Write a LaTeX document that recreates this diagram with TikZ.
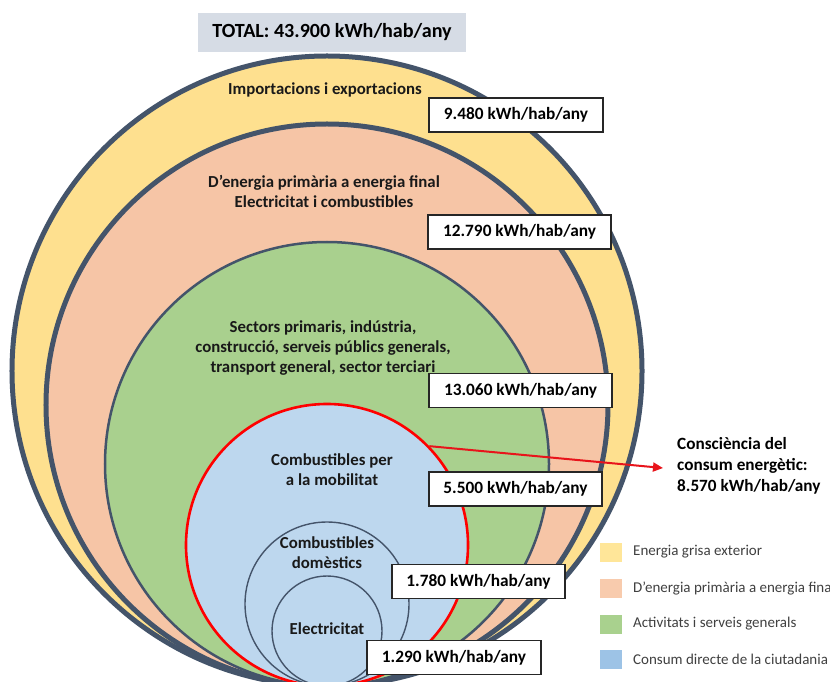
\documentclass[tikz,border=0pt]{standalone}
\usepackage{fontspec}
\setmainfont{Carlito}
\usetikzlibrary{arrows.meta}
\definecolor{navy}{HTML}{44546A}
\definecolor{cyel}{HTML}{FEE08F}
\definecolor{cpea}{HTML}{F6C5A6}
\definecolor{cgre}{HTML}{A9D08E}
\definecolor{cblu}{HTML}{BDD7EE}
\definecolor{lyel}{HTML}{FFE699}
\definecolor{lpea}{HTML}{F8CBAD}
\definecolor{lgre}{HTML}{A9D18E}
\definecolor{lblu}{HTML}{9DC3E6}
\definecolor{titlebg}{HTML}{D6DCE5}
\definecolor{legtext}{HTML}{404040}
\definecolor{arrred}{HTML}{E8141B}
\tikzset{
  ring/.style={circle, inner sep=0pt, draw=navy},
  clabel/.style={font=\fontsize{16.8bp}{20bp}\selectfont\bfseries, align=center, text=black!90},
  valbox/.style={draw=black!85, line width=1.1bp, fill=white, minimum width=174bp, minimum height=34bp, inner sep=0pt, font=\fontsize{17.3bp}{19bp}\selectfont\bfseries},
  legsq/.style={minimum width=22bp, minimum height=19bp, inner sep=0pt},
  legtxt/.style={anchor=west, inner sep=0pt, text=legtext, font=\fontsize{15bp}{17bp}\selectfont}
}
\begin{document}
\begin{tikzpicture}[x=1bp, y=-1bp]
\clip (0,0) rectangle (830,682);
\fill[white] (0,0) rectangle (830,682);
% circles, all tangent at (327,686)
\node[ring, fill=cyel, line width=5bp, minimum size=630bp] (c1) at (327,371) {};
\node[ring, fill=cpea, line width=5bp, minimum size=562bp] (c2) at (327,405) {};
\node[ring, fill=cgre, line width=2.5bp, minimum size=444bp] (c3) at (327,464) {};
\node[circle, inner sep=0pt, draw=red, fill=cblu, line width=2.6bp, minimum size=282bp] (c4) at (327,545) {};
\node[ring, line width=1.4bp, minimum size=164bp] (c5) at (327,604) {};
\node[ring, line width=1.4bp, minimum size=110bp] (c6) at (327,631) {};
% title
\node[fill=titlebg, minimum width=268bp, minimum height=39bp, inner sep=0pt, font=\fontsize{20.1bp}{22bp}\selectfont\bfseries] (title) at (332,32.5) {TOTAL: 43.900 kWh/hab/any};
% circle labels
\node[clabel] (l1) at (325,90) {Importacions i exportacions};
\node[clabel] (l2) at (324,191) {D’energia primària a energia final\\Electricitat i combustibles};
\node[clabel] (l3) at (323,348) {Sectors primaris, indústria,\\construcció, serveis públics generals,\\transport general, sector terciari};
\node[clabel] (l4) at (332,470) {Combustibles per\\a la mobilitat};
\node[clabel] (l5) at (327,553) {Combustibles\\domèstics};
\node[clabel] (l6) at (327,629) {Electricitat};
% value boxes
\node[valbox] (v1) at (516,115) {9.480 kWh/hab/any};
\node[valbox, minimum width=183bp] (v2) at (519.5,232) {12.790 kWh/hab/any};
\node[valbox, minimum width=183bp] (v3) at (520.5,390.5) {13.060 kWh/hab/any};
\node[valbox, minimum width=173bp] (v4) at (515.5,489) {5.500 kWh/hab/any};
\node[valbox, minimum width=173bp] (v5) at (478.5,581.5) {1.780 kWh/hab/any};
\node[valbox, minimum width=174bp] (v6) at (454,657.5) {1.290 kWh/hab/any};
% awareness
\node[anchor=north west, inner sep=0pt, align=left, font=\fontsize{17.2bp}{21bp}\selectfont\bfseries] (aw) at (677,437) {Consciència del\\consum energètic:\\8.570 kWh/hab/any};
\coordinate (tip) at (663,468);
\draw[arrred, line width=2bp, -{Triangle[length=10bp, width=9bp]}] (c4.44) -- (tip);
% legend
\node[legsq, fill=lyel] (q1) at (611,552) {};
\node[legsq, fill=lpea] (q2) at (611,588) {};
\node[legsq, fill=lgre] (q3) at (611,624) {};
\node[legsq, fill=lblu] (q4) at (611,659) {};
\node[legtxt] (t1) at (633,552) {Energia grisa exterior};
\node[legtxt] (t2) at (633,588) {D’energia primària a energia final};
\node[legtxt] (t3) at (633,624) {Activitats i serveis generals};
\node[legtxt] (t4) at (633,659) {Consum directe de la ciutadania};
\end{tikzpicture}
\end{document}
